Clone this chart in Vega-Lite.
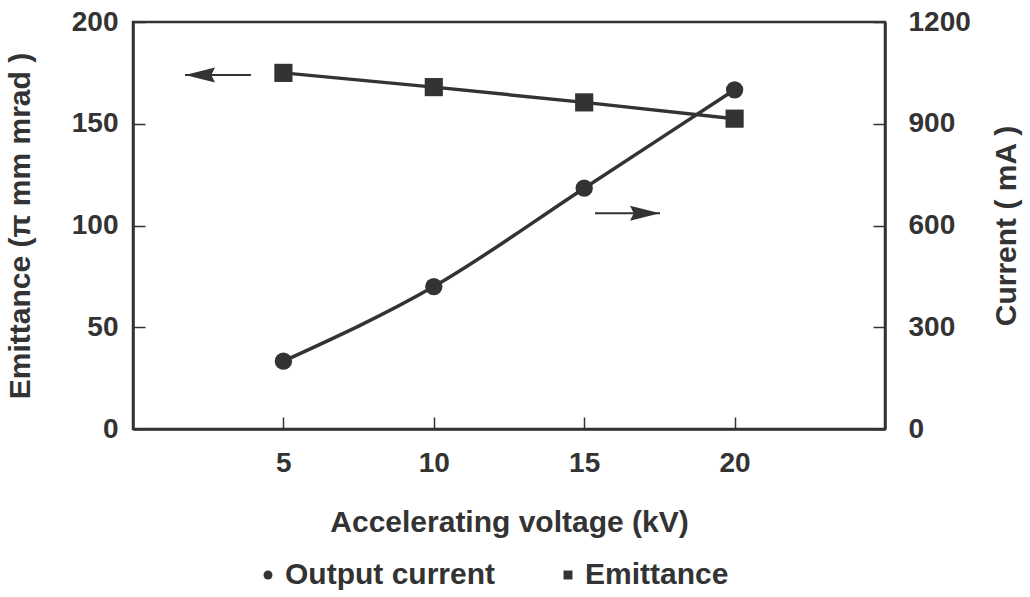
{
  "$schema": "https://vega.github.io/schema/vega-lite/v6.json",
  "width": 752,
  "height": 407,
  "autosize": "none",
  "padding": {"left": 133, "top": 22, "right": 145, "bottom": 168},
  "background": "white",
  "config": {
    "font": "Liberation Sans",
    "view": {"stroke": "#333", "strokeWidth": 2.5},
    "axis": {
      "labelFont": "Liberation Sans",
      "labelFontWeight": "bold",
      "labelFontSize": 28,
      "labelColor": "#333",
      "titleFont": "Liberation Sans",
      "titleFontWeight": "bold",
      "titleFontSize": 30,
      "titleColor": "#333",
      "domainColor": "#333",
      "domainWidth": 2.5,
      "tickColor": "#333",
      "tickWidth": 1.5,
      "tickSize": -12,
      "grid": false
    },
    "legend": {
      "labelFont": "Liberation Sans",
      "labelFontWeight": "bold",
      "labelFontSize": 30,
      "labelColor": "#333",
      "labelLimit": 400,
      "symbolFillColor": "#333",
      "symbolStrokeWidth": 0
    }
  },
  "datasets": {
    "measurements": [
      {"kV": 5, "series": "Output current", "value": 200},
      {"kV": 10, "series": "Output current", "value": 420},
      {"kV": 15, "series": "Output current", "value": 710},
      {"kV": 20, "series": "Output current", "value": 1000},
      {"kV": 5, "series": "Emittance", "value": 175},
      {"kV": 10, "series": "Emittance", "value": 168},
      {"kV": 15, "series": "Emittance", "value": 160.5},
      {"kV": 20, "series": "Emittance", "value": 152.5}
    ],
    "arrows": [
      {"x0": 3.92, "x1": 1.73, "y": 174, "dir": "left"},
      {"x0": 15.36, "x1": 17.52, "y": 106, "dir": "right"}
    ]
  },
  "layer": [
    {
      "data": {"name": "measurements"},
      "transform": [{"filter": "datum.series === 'Emittance'"}],
      "encoding": {
        "x": {
          "field": "kV",
          "type": "quantitative",
          "scale": {"domain": [0, 25], "nice": false},
          "axis": {
            "values": [5, 10, 15, 20],
            "title": "Accelerating voltage (kV)",
            "labelPadding": 32,
            "titlePadding": 30
          }
        },
        "y": {
          "field": "value",
          "type": "quantitative",
          "scale": {"domain": [0, 200], "nice": false},
          "axis": {
            "values": [0, 50, 100, 150, 200],
            "title": "Emittance (π mm mrad )",
            "labelPadding": 27,
            "titlePadding": 36
          }
        }
      },
      "layer": [
        {"mark": {"type": "line", "color": "#333", "strokeWidth": 3.5}},
        {
          "mark": {"type": "point", "filled": true, "color": "#333", "opacity": 1, "size": 330},
          "encoding": {
            "shape": {
              "field": "series",
              "type": "nominal",
              "scale": {"domain": ["Output current", "Emittance"], "range": ["circle", "square"]},
              "legend": {
                "title": null,
                "orient": "none",
                "legendX": 120,
                "legendY": 538,
                "direction": "horizontal",
                "symbolSize": 80,
                "labelOffset": 2,
                "columnPadding": 58
              }
            }
          }
        },
        {
          "data": {"name": "arrows"},
          "mark": {"type": "rule", "color": "#333", "strokeWidth": 2},
          "encoding": {
            "x": {"field": "x0", "type": "quantitative"},
            "x2": {"field": "x1"},
            "y": {"field": "y", "type": "quantitative"}
          }
        },
        {
          "data": {"name": "arrows"},
          "transform": [{"filter": "datum.dir === 'left'"}],
          "mark": {"type": "point", "filled": true, "color": "#333", "opacity": 1, "size": 2500,
                   "shape": "M0,0L1.2,-0.3L1.05,0L1.2,0.3Z"},
          "encoding": {
            "x": {"field": "x1", "type": "quantitative"},
            "y": {"field": "y", "type": "quantitative"}
          }
        },
        {
          "data": {"name": "arrows"},
          "transform": [{"filter": "datum.dir === 'right'"}],
          "mark": {"type": "point", "filled": true, "color": "#333", "opacity": 1, "size": 2500,
                   "shape": "M0,0L-1.2,-0.3L-1.05,0L-1.2,0.3Z"},
          "encoding": {
            "x": {"field": "x1", "type": "quantitative"},
            "y": {"field": "y", "type": "quantitative"}
          }
        }
      ]
    },
    {
      "data": {"name": "measurements"},
      "transform": [{"filter": "datum.series === 'Output current'"}],
      "encoding": {
        "x": {"field": "kV", "type": "quantitative"},
        "y": {
          "field": "value",
          "type": "quantitative",
          "scale": {"domain": [0, 1200], "nice": false},
          "axis": {
            "orient": "right",
            "values": [0, 300, 600, 900, 1200],
            "format": "d",
            "title": "Current ( mA )",
            "titleAngle": -90,
            "labelPadding": 35,
            "titlePadding": 51
          }
        }
      },
      "layer": [
        {"mark": {"type": "line", "color": "#333", "strokeWidth": 3.5, "interpolate": "monotone"}},
        {
          "mark": {"type": "point", "filled": true, "color": "#333", "opacity": 1, "size": 300},
          "encoding": {
            "shape": {"field": "series", "type": "nominal"}
          }
        }
      ]
    }
  ],
  "resolve": {"scale": {"y": "independent"}}
}
